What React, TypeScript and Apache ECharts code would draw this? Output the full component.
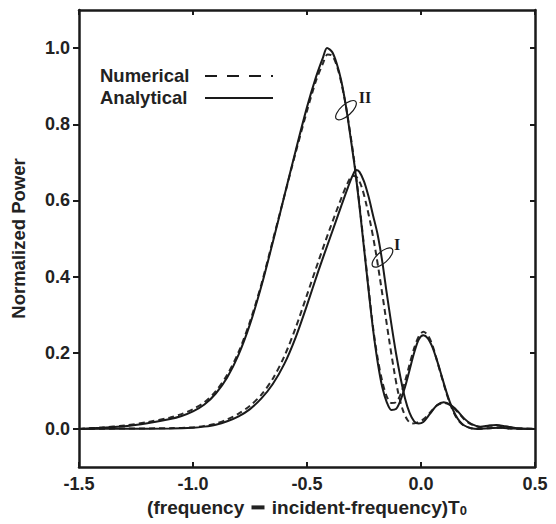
import React, { useEffect, useRef } from "react";
import * as echarts from "echarts";

const xTicks = [-1.5, -1.0, -0.5, 0.0, 0.5];
const yTicks = [0, 0.2, 0.4, 0.6, 0.8, 1.0];

const analyticalII: [number, number][] = [
  [-1.5, 0], [-1.4, 0.003], [-1.3, 0.007], [-1.2, 0.015], [-1.1, 0.026], [-1.05, 0.034],
  [-1.0, 0.046], [-0.95, 0.064], [-0.9, 0.093], [-0.85, 0.135], [-0.8, 0.195], [-0.75, 0.275],
  [-0.7, 0.375], [-0.65, 0.49], [-0.6, 0.61], [-0.55, 0.73], [-0.5, 0.845], [-0.46, 0.925],
  [-0.43, 0.975], [-0.412, 1.0], [-0.39, 0.99], [-0.37, 0.96], [-0.35, 0.915], [-0.33, 0.85],
  [-0.31, 0.77], [-0.29, 0.685], [-0.27, 0.585], [-0.25, 0.475], [-0.23, 0.365], [-0.21, 0.26],
  [-0.19, 0.175], [-0.17, 0.11], [-0.15, 0.07], [-0.13, 0.05], [-0.11, 0.052], [-0.09, 0.075],
  [-0.07, 0.11], [-0.05, 0.155], [-0.03, 0.2], [-0.01, 0.235], [0.01, 0.246], [0.03, 0.238],
  [0.05, 0.215], [0.07, 0.18], [0.09, 0.14], [0.11, 0.1], [0.13, 0.065], [0.15, 0.038],
  [0.17, 0.02], [0.19, 0.009], [0.22, 0.002], [0.25, 0], [0.3, 0.002], [0.35, 0.003],
  [0.4, 0.001], [0.5, 0],
];

const numericalII: [number, number][] = [
  [-1.5, 0], [-1.4, 0.004], [-1.3, 0.009], [-1.2, 0.018], [-1.1, 0.03], [-1.05, 0.039],
  [-1.0, 0.052], [-0.95, 0.07], [-0.9, 0.099], [-0.85, 0.142], [-0.8, 0.202], [-0.75, 0.282],
  [-0.7, 0.38], [-0.65, 0.495], [-0.6, 0.61], [-0.55, 0.725], [-0.5, 0.835], [-0.46, 0.915],
  [-0.43, 0.96], [-0.41, 0.983], [-0.39, 0.98], [-0.37, 0.955], [-0.35, 0.91], [-0.33, 0.85],
  [-0.31, 0.775], [-0.29, 0.69], [-0.27, 0.59], [-0.25, 0.48], [-0.23, 0.37], [-0.21, 0.265],
  [-0.19, 0.185], [-0.17, 0.125], [-0.15, 0.085], [-0.13, 0.068], [-0.11, 0.07], [-0.09, 0.09],
  [-0.07, 0.125], [-0.05, 0.17], [-0.03, 0.212], [-0.01, 0.243], [0.01, 0.255], [0.03, 0.246],
  [0.05, 0.22], [0.07, 0.18], [0.09, 0.138], [0.11, 0.097], [0.13, 0.062], [0.15, 0.035],
  [0.17, 0.018], [0.19, 0.008], [0.22, 0.002], [0.25, 0], [0.3, 0.002], [0.35, 0.003],
  [0.4, 0.001], [0.5, 0],
];

const analyticalI: [number, number][] = [
  [-1.5, 0], [-1.3, 0.0005], [-1.1, 0.001], [-1.0, 0.003], [-0.95, 0.006], [-0.9, 0.011],
  [-0.85, 0.02], [-0.8, 0.033], [-0.75, 0.052], [-0.7, 0.08], [-0.65, 0.118], [-0.6, 0.17],
  [-0.55, 0.24], [-0.5, 0.325], [-0.45, 0.415], [-0.4, 0.5], [-0.35, 0.585], [-0.32, 0.635],
  [-0.3, 0.665], [-0.285, 0.68], [-0.27, 0.675], [-0.25, 0.65], [-0.23, 0.61], [-0.21, 0.56],
  [-0.19, 0.51], [-0.17, 0.44], [-0.15, 0.355], [-0.13, 0.275], [-0.11, 0.2], [-0.09, 0.135],
  [-0.07, 0.08], [-0.05, 0.042], [-0.03, 0.02], [-0.01, 0.014], [0.01, 0.018], [0.04, 0.04],
  [0.07, 0.062], [0.1, 0.07], [0.13, 0.063], [0.16, 0.047], [0.19, 0.027], [0.22, 0.013],
  [0.26, 0.006], [0.3, 0.009], [0.33, 0.01], [0.37, 0.007], [0.42, 0.002], [0.5, 0],
];

const numericalI: [number, number][] = [
  [-1.5, 0], [-1.3, 0.001], [-1.1, 0.002], [-1.0, 0.004], [-0.95, 0.008], [-0.9, 0.014],
  [-0.85, 0.025], [-0.8, 0.04], [-0.75, 0.061], [-0.7, 0.09], [-0.65, 0.132], [-0.6, 0.19],
  [-0.55, 0.265], [-0.5, 0.352], [-0.45, 0.44], [-0.4, 0.525], [-0.35, 0.605], [-0.32, 0.648],
  [-0.3, 0.665], [-0.28, 0.66], [-0.26, 0.635], [-0.24, 0.59], [-0.22, 0.535], [-0.2, 0.47],
  [-0.18, 0.395], [-0.16, 0.315], [-0.14, 0.235], [-0.12, 0.16], [-0.1, 0.095], [-0.08, 0.05],
  [-0.06, 0.024], [-0.04, 0.014], [-0.02, 0.016], [0.01, 0.025], [0.04, 0.043], [0.07, 0.062],
  [0.1, 0.068], [0.13, 0.062], [0.16, 0.045], [0.19, 0.025], [0.22, 0.012], [0.26, 0.005],
  [0.3, 0.008], [0.33, 0.009], [0.37, 0.006], [0.42, 0.002], [0.5, 0],
];

const legendLabels = ["Numerical", "Analytical"];
const curveLabels = ["II", "I"];
const curveLabelPos: [number, number][] = [[-0.246, 0.869], [-0.105, 0.483]];
const ellipsePos: [number, number][] = [[-0.329, 0.837], [-0.169, 0.45]];

const FONT = "'Liberation Sans', Arial, Helvetica, sans-serif";
const SERIF = "'Liberation Serif', 'Times New Roman', serif";
const INK = "#1a1a1a";

export default function App() {
  const ref = useRef<HTMLDivElement>(null);
  useEffect(() => {
    if (!ref.current) return;
    const chart = echarts.init(ref.current, undefined, { renderer: "svg" });
    const axisLine = { show: true, onZero: false, lineStyle: { color: INK, width: 2.5 } };
    const tickStyle = { color: INK, width: 2 };
    const labelStyle = { fontSize: 18, fontWeight: "bold" as const, color: "#222", fontFamily: FONT };
    const solid = { color: INK, width: 2 };
    const dashed = { color: "#2a2a2a", width: 2, type: [6, 4] as number[] };
    chart.setOption({
      animation: false,
      grid: { left: 79, right: 21, top: 10, bottom: 57, containLabel: false },
      xAxis: [
        {
          type: "value", min: -1.5, max: 0.5, interval: 0.5, position: "bottom",
          axisLine, splitLine: { show: false },
          axisTick: { inside: true, length: 5, lineStyle: tickStyle, customValues: xTicks },
          axisLabel: { ...labelStyle, margin: 8, customValues: xTicks, formatter: (v: number) => v.toFixed(1) },
          name: "(frequency {gap| }{bar| }{gap| } incident-frequency)T{sub|0}",
          nameLocation: "middle", nameGap: 30,
          nameTextStyle: {
            ...labelStyle,
            fontSize: 19,
            rich: {
              sub: { fontSize: 13, fontWeight: "bold", fontFamily: FONT, color: "#222", padding: [7, 0, 0, 0] },
              bar: { fontSize: 4, width: 13, height: 4, backgroundColor: "#222" },
              gap: { fontSize: 4, width: 2 },
            },
          },
        },
        {
          type: "value", min: -1.5, max: 0.5, interval: 0.5, position: "top",
          axisLine, splitLine: { show: false },
          axisTick: { inside: true, length: 5, lineStyle: tickStyle },
          axisLabel: { show: false },
        },
      ],
      yAxis: [
        {
          type: "value", min: -0.1, max: 1.1, position: "left",
          axisLine, splitLine: { show: false },
          axisTick: { inside: false, length: 6, lineStyle: tickStyle, customValues: yTicks },
          axisLabel: { ...labelStyle, margin: 9, customValues: yTicks, formatter: (v: number) => v.toFixed(1) },
          name: "Normalized Power", nameLocation: "middle", nameGap: 51, nameRotate: 90,
          nameTextStyle: { ...labelStyle, fontSize: 18.5 },
        },
        {
          type: "value", min: -0.1, max: 1.1, position: "right",
          axisLine, splitLine: { show: false },
          axisTick: { inside: true, length: 5, lineStyle: tickStyle, customValues: yTicks },
          axisLabel: { show: false, customValues: yTicks },
        },
      ],
      series: [
        { name: legendLabels[0], type: "line", data: numericalII, smooth: 0.3, symbol: "none", lineStyle: dashed },
        { name: legendLabels[0], type: "line", data: numericalI, smooth: 0.3, symbol: "none", lineStyle: dashed },
        { name: legendLabels[1], type: "line", data: analyticalII, smooth: 0.3, symbol: "none", lineStyle: solid },
        { name: legendLabels[1], type: "line", data: analyticalI, smooth: 0.3, symbol: "none", lineStyle: solid },
      ],
    });

    const graphic: any[] = [];
    const legY = [76, 98];
    legendLabels.forEach((lab, i) => {
      graphic.push({
        type: "text", left: 100, top: legY[i] - 10,
        style: { text: lab, fontSize: 18.5, fontWeight: "bold", fontFamily: FONT, fill: "#222" },
      });
      graphic.push({
        type: "line",
        shape: { x1: 205, y1: legY[i], x2: 273, y2: legY[i] },
        style: i === 0 ? { stroke: INK, lineWidth: 2, lineDash: [12, 10] } : { stroke: INK, lineWidth: 2 },
      });
    });
    curveLabels.forEach((lab, i) => {
      const [ex, ey] = chart.convertToPixel({ gridIndex: 0 }, ellipsePos[i]) as number[];
      const [lx, ly] = chart.convertToPixel({ gridIndex: 0 }, curveLabelPos[i]) as number[];
      graphic.push({
        type: "ellipse", x: ex, y: ey, rotation: (42 * Math.PI) / 180,
        shape: { cx: 0, cy: 0, rx: 13, ry: 5.5 },
        style: { fill: "none", stroke: INK, lineWidth: 1.2 },
      });
      graphic.push({
        type: "text", x: lx, y: ly,
        style: { text: lab, fontSize: 16, fontWeight: "bold", fontFamily: SERIF, fill: INK, align: "center", verticalAlign: "middle" },
      });
    });
    chart.setOption({ graphic });
    return () => chart.dispose();
  }, []);
  return <div ref={ref} style={{ position: "absolute", left: 0, top: 0, width: 556, height: 524, background: "#fff" }} />;
}
